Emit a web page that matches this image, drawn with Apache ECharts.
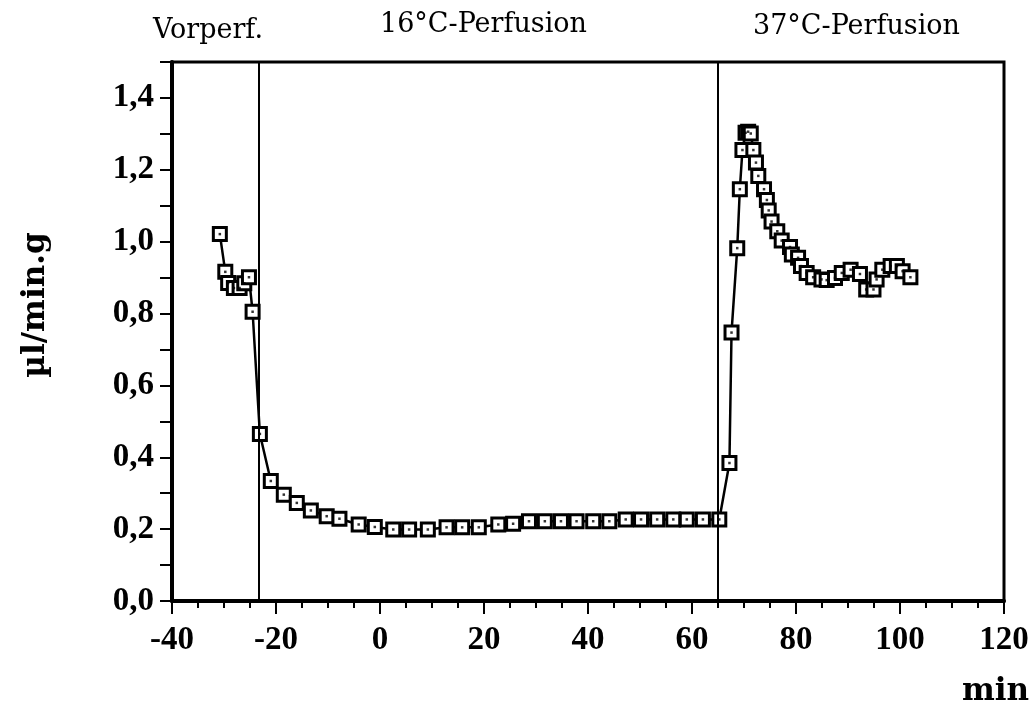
<!DOCTYPE html>
<html>
<head>
<meta charset="utf-8">
<script src="https://cdn.jsdelivr.net/npm/echarts@6/dist/echarts.min.js"></script>
<style>
html, body { margin: 0; padding: 0; background: #fff; }
#chart { width: 1034px; height: 713px; }
</style>
</head>
<body>
<div id="chart"></div>
<script>
// Zeit (min) und Fluss (µl/min.g)
var time_min = [
	-30.8, -29.75, -29.2, -28.1, -27.0, -26.1, -25.2, -24.5, -23.1,
	-21.0, -18.5, -16.0, -13.3, -10.25, -7.8, -4.1, -1.0, 2.55, 5.6, 9.2,
	12.8, 15.8, 19.0, 22.75, 25.6, 28.65, 31.7, 34.8, 37.8, 41.0, 44.1,
	47.25, 50.2, 53.3, 56.4, 59.0, 62.1, 65.25,
	67.2, 67.6, 68.7, 69.2, 69.7, 70.3, 70.8, 71.3, 71.8, 72.3, 72.75,
	73.85, 74.4, 74.75, 75.3, 76.4, 77.25, 78.85, 79.2, 80.4, 80.96,
	82.05, 83.3, 84.9, 85.9, 87.5, 88.8, 90.5, 92.3, 93.5, 94.9, 95.5,
	96.6, 98.2, 99.4, 100.5, 102.0
];
var flow = [
	1.021, 0.916, 0.885, 0.871, 0.871, 0.884, 0.901, 0.805, 0.465,
	0.334, 0.296, 0.273, 0.252, 0.236, 0.229, 0.213, 0.206, 0.199, 0.199, 0.199,
	0.205, 0.205, 0.205, 0.213, 0.215, 0.222, 0.222, 0.222, 0.222, 0.222, 0.222,
	0.227, 0.227, 0.227, 0.227, 0.227, 0.227, 0.227,
	0.384, 0.747, 0.982, 1.146, 1.255, 1.303, 1.306, 1.301, 1.255, 1.220, 1.183,
	1.146, 1.116, 1.087, 1.056, 1.029, 1.003, 0.985, 0.964, 0.955, 0.932,
	0.913, 0.901, 0.895, 0.893, 0.899, 0.913, 0.922, 0.910, 0.867, 0.867, 0.895,
	0.922, 0.932, 0.932, 0.918, 0.901
];
// Phasengrenzen (min)
var phase_bounds = [-23.3, 65];
var phase_names = ["Vorperf.", "16°C-Perfusion", "37°C-Perfusion"];

var points = [];
for (var i = 0; i < time_min.length; i++) {
	points.push([time_min[i], flow[i]]);
}

var num_font = "Liberation Serif";
var txt_font = "DejaVu Serif";

var chart = echarts.init(document.getElementById("chart"));
var option = {
	animation: false,
	backgroundColor: "#fff",
	grid: {
		left: 172, right: 30, top: 62, bottom: 112,
		show: true,
		borderColor: "#000",
		borderWidth: 3,
		backgroundColor: "transparent"
	},
	xAxis: {
		type: "value",
		min: -40, max: 120, interval: 20,
		axisLine: { onZero: false, lineStyle: { color: "#000", width: 4 } },
		axisTick: { length: 13, lineStyle: { color: "#000", width: 2 } },
		minorTick: { show: true, splitNumber: 4, length: 7, lineStyle: { color: "#000", width: 2 } },
		splitLine: { show: false },
		axisLabel: {
			margin: 23, color: "#000",
			fontFamily: num_font, fontWeight: "bold", fontSize: 33
		}
	},
	yAxis: {
		type: "value",
		min: 0, max: 1.5, interval: 0.1,
		axisLine: { onZero: false, lineStyle: { color: "#000", width: 4 } },
		axisTick: { length: 12, lineStyle: { color: "#000", width: 2 } },
		splitLine: { show: false },
		axisLabel: {
			margin: 18, color: "#000",
			fontFamily: num_font, fontWeight: "bold", fontSize: 33,
			formatter: function (v) {
				var k = Math.round(v * 10);
				if (k % 2 !== 0 || k > 14) return "";
				return (k / 10).toFixed(1).replace(".", ",");
			}
		}
	},
	graphic: [
		{ type: "text", left: 153, top: 17, style: { text: phase_names[0], font: "27px 'DejaVu Serif'", fill: "#000" } },
		{ type: "text", left: 380, top: 11, style: { text: phase_names[1], font: "27px 'DejaVu Serif'", fill: "#000" } },
		{ type: "text", left: 753, top: 13, style: { text: phase_names[2], font: "27px 'DejaVu Serif'", fill: "#000" } },
		// Achsentitel
		{
			type: "text", x: 36, y: 305, rotation: Math.PI / 2,
			style: { text: "µl/min.g", font: "bold 31px 'DejaVu Serif'", fill: "#000", align: "center", verticalAlign: "middle" }
		},
		{
			type: "text", right: 5, top: 676,
			style: { text: "min", font: "bold 31px 'DejaVu Serif'", fill: "#000" }
		}
	],
	series: [
		{
			type: "line",
			data: points,
			z: 3,
			symbol: "rect",
			symbolSize: 13,
			itemStyle: { color: "#fff", borderColor: "#000", borderWidth: 3 },
			lineStyle: { color: "#000", width: 2.5 },
			markLine: {
				silent: true,
				symbol: "none",
				label: { show: false },
				lineStyle: { color: "#000", width: 2, type: "solid" },
				data: [{ xAxis: phase_bounds[0] }, { xAxis: phase_bounds[1] }]
			}
		},
		{
			// Punkt in der Mitte der Quadrate
			type: "scatter",
			data: points,
			z: 4,
			symbol: "rect",
			symbolSize: 2.5,
			itemStyle: { color: "#000" }
		}
	]
};
chart.setOption(option);
</script>
</body>
</html>
